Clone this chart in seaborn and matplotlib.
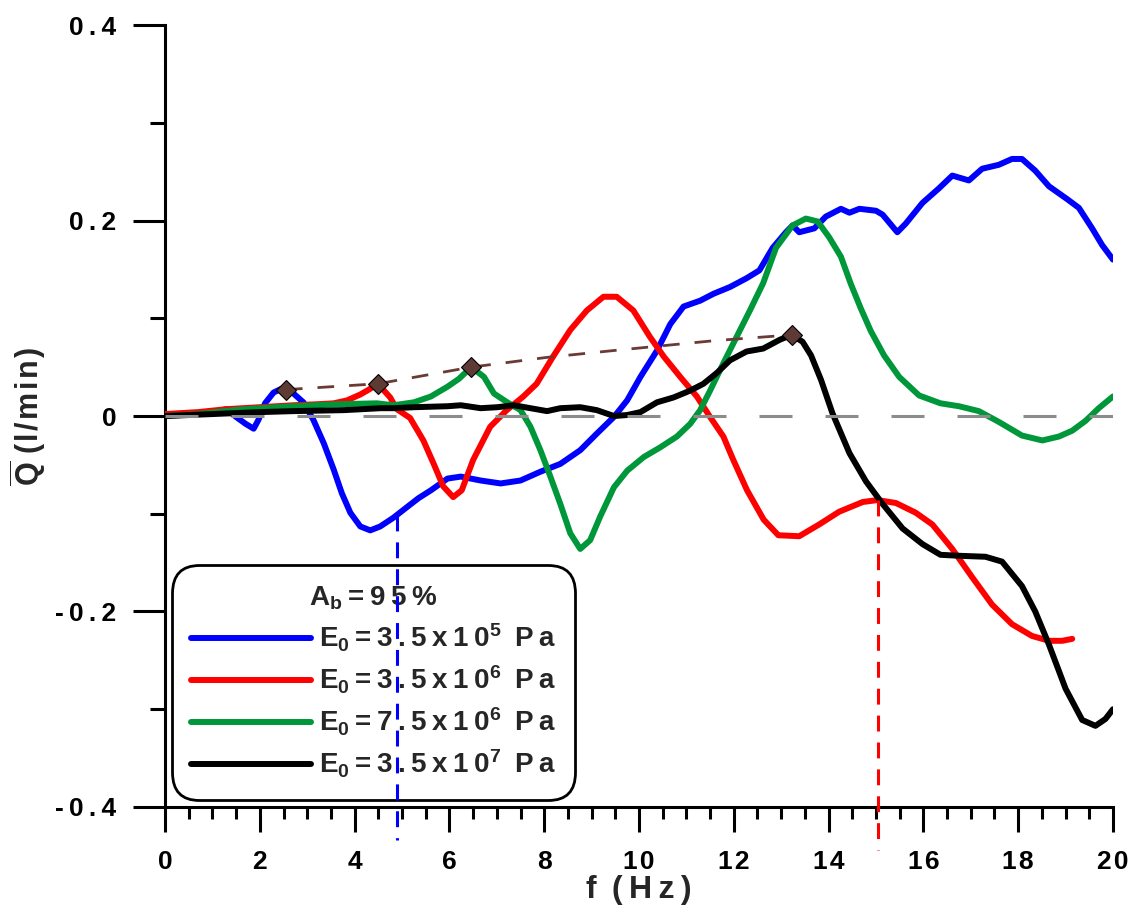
import numpy as np
import matplotlib
matplotlib.use("Agg")
import matplotlib.pyplot as plt
import seaborn as sns
from matplotlib.ticker import MultipleLocator, FuncFormatter

# ---- data: mean flow rate vs excitation frequency ----
blue_x = [0, 0.3, 0.7, 1.0, 1.3, 1.5, 1.7, 1.87, 1.97, 2.11, 2.29, 2.46, 2.71, 2.92,
          3.13, 3.35, 3.56, 3.73, 3.91, 4.12, 4.33, 4.54, 4.82, 5.11, 5.35, 5.61, 5.96,
          6.24, 6.66, 7.08, 7.50, 7.92, 8.34, 8.76, 9.11, 9.47, 9.75, 10.03, 10.38,
          10.66, 10.94, 11.29, 11.57, 11.92, 12.27, 12.54, 12.82, 13.10, 13.24, 13.38,
          13.70, 13.94, 14.26, 14.44, 14.65, 15.00, 15.14, 15.45, 15.63, 15.98, 16.33,
          16.61, 16.96, 17.24, 17.59, 17.87, 18.08, 18.36, 18.65, 19.03, 19.28, 19.56,
          19.77, 20.0]
blue_y = [0.000, 0.002, 0.003, 0.004, 0.007, -0.001, -0.008, -0.013, -0.004, 0.013,
          0.024, 0.028, 0.023, 0.014, -0.004, -0.028, -0.055, -0.079, -0.099, -0.113,
          -0.117, -0.113, -0.104, -0.093, -0.084, -0.076, -0.064, -0.062, -0.066,
          -0.069, -0.066, -0.057, -0.049, -0.035, -0.018, -0.001, 0.016, 0.040, 0.067,
          0.094, 0.112, 0.118, 0.125, 0.132, 0.141, 0.149, 0.172, 0.188, 0.195, 0.188,
          0.192, 0.204, 0.212, 0.208, 0.212, 0.210, 0.206, 0.188, 0.197, 0.218, 0.233,
          0.246, 0.241, 0.253, 0.257, 0.263, 0.263, 0.251, 0.235, 0.222, 0.213, 0.192,
          0.175, 0.160]

red_x = [0, 0.7, 1.3, 2.0, 2.71, 3.2, 3.56, 3.84, 4.12, 4.30, 4.49, 4.75, 4.89, 5.17,
         5.45, 5.66, 5.87, 6.08, 6.26, 6.50, 6.86, 7.21, 7.56, 7.84, 8.19, 8.55, 8.90,
         9.25, 9.53, 9.88, 10.23, 10.52, 10.87, 11.22, 11.50, 11.78, 11.99, 12.28,
         12.63, 12.94, 13.38, 13.80, 14.22, 14.72, 15.03, 15.42, 15.84, 16.19, 16.61,
         17.03, 17.45, 17.87, 18.29, 18.65, 18.93, 19.14]
red_y = [0.002, 0.004, 0.007, 0.009, 0.011, 0.012, 0.013, 0.016, 0.022, 0.027, 0.033,
         0.019, 0.007, -0.002, -0.025, -0.048, -0.072, -0.083, -0.076, -0.045, -0.011,
         0.006, 0.020, 0.033, 0.061, 0.088, 0.108, 0.122, 0.122, 0.108, 0.081, 0.061,
         0.040, 0.020, -0.001, -0.021, -0.045, -0.076, -0.106, -0.122, -0.123, -0.111,
         -0.098, -0.088, -0.086, -0.089, -0.099, -0.111, -0.136, -0.165, -0.193,
         -0.213, -0.225, -0.230, -0.230, -0.228]

green_x = [0, 0.7, 1.44, 2.0, 2.71, 3.63, 4.47, 4.82, 5.25, 5.61, 5.96, 6.20, 6.46,
           6.73, 6.94, 7.22, 7.50, 7.71, 7.92, 8.13, 8.34, 8.55, 8.76, 8.97, 9.18, 9.47,
           9.75, 10.10, 10.45, 10.80, 11.08, 11.29, 11.50, 11.78, 12.06, 12.34, 12.62,
           12.89, 13.24, 13.52, 13.77, 14.01, 14.26, 14.47, 14.68, 14.89, 15.17, 15.49,
           15.91, 16.36, 16.75, 17.17, 17.59, 18.08, 18.51, 18.86, 19.14, 19.42, 19.70,
           20.0]
green_y = [0.000, 0.002, 0.006, 0.008, 0.010, 0.012, 0.013, 0.011, 0.014, 0.020, 0.030,
           0.038, 0.050, 0.040, 0.023, 0.014, 0.006, -0.011, -0.035, -0.062, -0.090,
           -0.120, -0.136, -0.127, -0.103, -0.073, -0.056, -0.042, -0.032, -0.021,
           -0.008, 0.006, 0.026, 0.054, 0.081, 0.108, 0.136, 0.172, 0.195, 0.202, 0.199,
           0.183, 0.163, 0.135, 0.110, 0.087, 0.062, 0.040, 0.021, 0.013, 0.010, 0.005,
           -0.006, -0.020, -0.025, -0.021, -0.015, -0.005, 0.008, 0.020]

black_x = [0, 1.0, 2.0, 2.71, 3.77, 4.55, 4.82, 5.25, 5.96, 6.24, 6.66, 7.01, 7.36,
           7.71, 8.06, 8.34, 8.76, 9.11, 9.47, 9.75, 10.03, 10.38, 10.73, 11.08, 11.36,
           11.64, 11.92, 12.27, 12.62, 12.97, 13.22, 13.45, 13.63, 13.84, 14.08, 14.44,
           14.79, 15.14, 15.56, 15.98, 16.36, 16.75, 17.31, 17.66, 18.08, 18.36, 18.65,
           19.00, 19.35, 19.63, 19.84, 20.0]
black_y = [0.000, 0.002, 0.004, 0.005, 0.006, 0.008, 0.008, 0.009, 0.010, 0.011, 0.008,
           0.009, 0.011, 0.008, 0.005, 0.008, 0.009, 0.006, 0.000, 0.001, 0.004, 0.014,
           0.019, 0.026, 0.033, 0.044, 0.057, 0.066, 0.069, 0.078, 0.083, 0.076, 0.062,
           0.037, 0.003, -0.038, -0.067, -0.090, -0.115, -0.131, -0.142, -0.143, -0.144,
           -0.149, -0.174, -0.200, -0.234, -0.279, -0.311, -0.317, -0.310, -0.300]

# first resonance peak of each case and the trend through them
peak_x = [2.55, 4.49, 6.46, 13.22]
peak_y = [0.027, 0.033, 0.050, 0.083]
trend_x = [2.55, 4.49, 6.46, 8.06, 9.47, 11.57, 13.22]
trend_y = [0.027, 0.033, 0.050, 0.060, 0.067, 0.077, 0.083]

# frequencies marked with vertical guides
blue_mark_f = 4.89
red_mark_f = 15.05

TS = "\u2009"  # thin space used as letter spacing
HS = "\u200a"  # hair space, tighter letter spacing


def spaced(s, sep=TS):
    return sep.join(s)


series_labels = [
    "E$_0$" + TS + spaced("=3.5x10") + "$^5$" + TS + " " + spaced("Pa"),
    "E$_0$" + TS + spaced("=3.5x10") + "$^6$" + TS + " " + spaced("Pa"),
    "E$_0$" + TS + spaced("=7.5x10") + "$^6$" + TS + " " + spaced("Pa"),
    "E$_0$" + TS + spaced("=3.5x10") + "$^7$" + TS + " " + spaced("Pa"),
]
series_colors = ["#0000FF", "#FF0000", "#00973A", "#000000"]
legend_title = "A$_b$" + TS + spaced("=95%")

# ---- styling ----
sns.set_theme(style="white")
plt.rcParams.update({
    "font.family": ["Liberation Sans", "DejaVu Sans"],
    "font.weight": "bold",
    "axes.labelweight": "bold",
    "axes.unicode_minus": False,
    "mathtext.fontset": "custom",
    "mathtext.rm": "Liberation Sans:bold",
    "mathtext.it": "Liberation Sans:bold",
    "mathtext.bf": "Liberation Sans:bold",
})

fig = plt.figure(figsize=(11.35, 9.14), dpi=100)
ax = fig.add_axes([0.1454, 0.1171, 0.8352, 0.8555])

lw = 4.3
handles = []
for xs, ys, col, lab in zip([blue_x, red_x, green_x, black_x],
                            [blue_y, red_y, green_y, black_y],
                            series_colors, series_labels):
    sns.lineplot(x=xs, y=ys, ax=ax, color=col, lw=lw, estimator=None,
                 sort=False, label=lab, zorder=3)
    line = ax.lines[-1]
    line.set_solid_capstyle("round")
    handles.append(line)

# zero reference
ax.axhline(0, color="#8C8C8C", lw=2.2, ls=(0, (10.8, 10.8)), zorder=4)

# trend of first peaks
sns.lineplot(x=trend_x, y=trend_y, ax=ax, color="#6B3A35", lw=2.0,
             estimator=None, sort=False, zorder=5, legend=False)
ax.lines[-1].set_linestyle((0, (6.0, 5.4)))
ax.plot(peak_x, peak_y, ls="none", marker="D", ms=10, mfc="#5E3A35",
        mec="black", mew=0.8, zorder=6)

# vertical guides down past the axis
blue_top = np.interp(blue_mark_f, blue_x, blue_y)
red_top = np.interp(red_mark_f, red_x, red_y)
ax.plot([blue_mark_f, blue_mark_f], [blue_top, -0.434], color="#0000FF", lw=2.2,
        ls=(0, (5.2, 3.6)), clip_on=False, zorder=8)
ax.plot([red_mark_f, red_mark_f], [red_top, -0.444], color="#FF0000", lw=2.2,
        ls=(0, (5.2, 3.6)), clip_on=False, zorder=8)

ax.set_xlim(0, 20)
ax.set_ylim(-0.4, 0.4)

for side in ["top", "right"]:
    ax.spines[side].set_visible(False)
for side in ["left", "bottom"]:
    ax.spines[side].set_linewidth(2.2)
    ax.spines[side].set_color("black")

ax.xaxis.set_major_locator(MultipleLocator(2))
ax.xaxis.set_minor_locator(MultipleLocator(0.5))
ax.yaxis.set_major_locator(MultipleLocator(0.2))
ax.yaxis.set_minor_locator(MultipleLocator(0.1))
ax.xaxis.set_major_formatter(FuncFormatter(lambda v, p: spaced(f"{v:.0f}", HS)))
ax.yaxis.set_major_formatter(
    FuncFormatter(lambda v, p: "0" if abs(v) < 1e-9 else spaced(f"{v:.1f}")))

ax.tick_params(axis="x", which="major", direction="out", length=18, width=2.2,
               pad=13, labelsize=19, bottom=True, colors="black")
ax.tick_params(axis="x", which="minor", direction="out", length=8.6, width=2.2,
               bottom=True, colors="black")
ax.tick_params(axis="y", which="major", direction="out", length=23, width=2.2,
               pad=12, labelsize=19, left=True, colors="black")
ax.tick_params(axis="y", which="minor", direction="out", length=11, width=2.2,
               left=True, colors="black")
for t in ax.get_xticklabels() + ax.get_yticklabels():
    t.set_fontweight("bold")

ax.set_xlabel(spaced("f") + TS + " " + spaced("(Hz)"), fontsize=23,
              fontweight="bold", labelpad=1)
ax.set_ylabel(r"$\overline{\mathrm{Q}}$" + " " + spaced("(l/min)", HS),
              fontsize=22, fontweight="bold")
ax.yaxis.set_label_coords(-0.122, 0.5)

leg = ax.legend(handles=handles, labels=series_labels, title=legend_title,
                loc="lower left", bbox_to_anchor=(0.007, 0.009), borderaxespad=0,
                fontsize=20, title_fontsize=20, handlelength=4.3,
                handletextpad=0.3, labelspacing=0.35, borderpad=0.7,
                frameon=True, fancybox=True, edgecolor="black", facecolor="white",
                framealpha=1.0)
leg.set_zorder(7)
leg.get_frame().set_linewidth(2.0)
leg.get_frame().set_boxstyle("round", pad=0.0, rounding_size=1.0)
leg.get_title().set_fontweight("bold")
for t in leg.get_texts():
    t.set_fontweight("bold")

fig.savefig("out.png", dpi=100)
